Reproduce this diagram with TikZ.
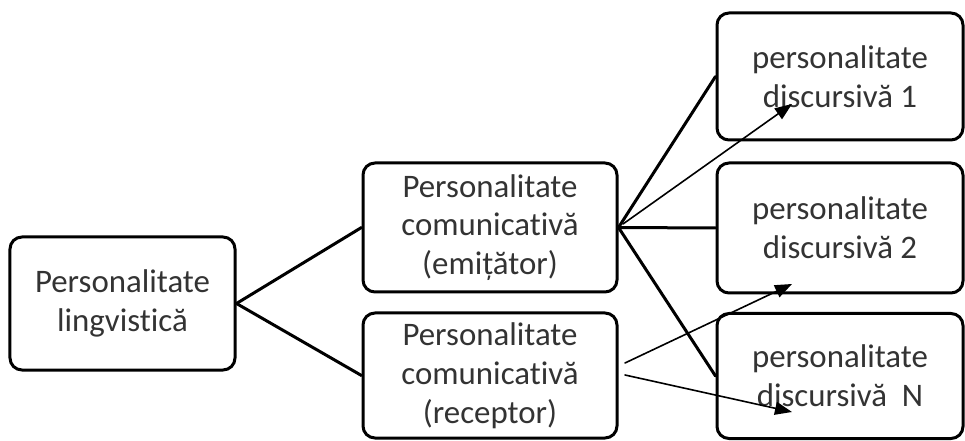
\documentclass[tikz,border=0pt]{standalone}
\usepackage{fontspec}
\setmainfont[Ligatures=NoCommon]{Carlito}
\usepackage{tikz}
\usetikzlibrary{arrows.meta}
\usepackage{xcolor}
\begin{document}
\begin{tikzpicture}[x=1bp,y=-1bp,>={Triangle[length=17bp,width=13bp]},line cap=round,
  box/.style={draw,line width=3bp,rounded corners=12bp,align=center,text=black!80,
    font=\fontsize{33}{39}\selectfont,inner sep=0pt},
  branch/.style={line width=3bp},
  link/.style={->,line width=1.6bp}]
\useasboundingbox (0,0) rectangle (965,441);
\node[box,minimum width=225bp,minimum height=133bp] (ling) at (122.5,303.5) {Personalitate\\lingvistică};
\node[box,minimum width=254bp,minimum height=129bp] (emit) at (490,227.5) {Personalitate\\comunicativă\\(emițător)};
\node[box,minimum width=254bp,minimum height=125bp] (rec) at (490,375.5) {Personalitate\\comunicativă\\(receptor)};
\node[box,minimum width=246bp,minimum height=127bp] (d1) at (840,76.5) {personalitate\\discursivă 1};
\node[box,minimum width=246bp,minimum height=130bp] (d2) at (840,228) {personalitate\\discursivă 2};
\node[box,minimum width=246bp,minimum height=125bp] (dn) at (840,376) {personalitate\\discursivă\ \ N};
\draw[branch] (ling.east) -- (emit.west);
\draw[branch] (ling.east) -- (rec.west);
\draw[branch] (emit.east) -- (d1.west);
\draw[branch] (emit.east) -- (d2.west);
\draw[branch] (emit.east) -- (dn.west);
\coordinate (e1) at (623,224);
\coordinate (r1) at (625,363);
\coordinate (r2) at (625,375);
\coordinate (t1) at (792,104);
\coordinate (t2) at (792,284);
\coordinate (tn) at (792,412);
\draw[link] (e1) -- (t1);
\draw[link] (r1) -- (t2);
\draw[link] (r2) -- (tn);
\end{tikzpicture}
\end{document}
